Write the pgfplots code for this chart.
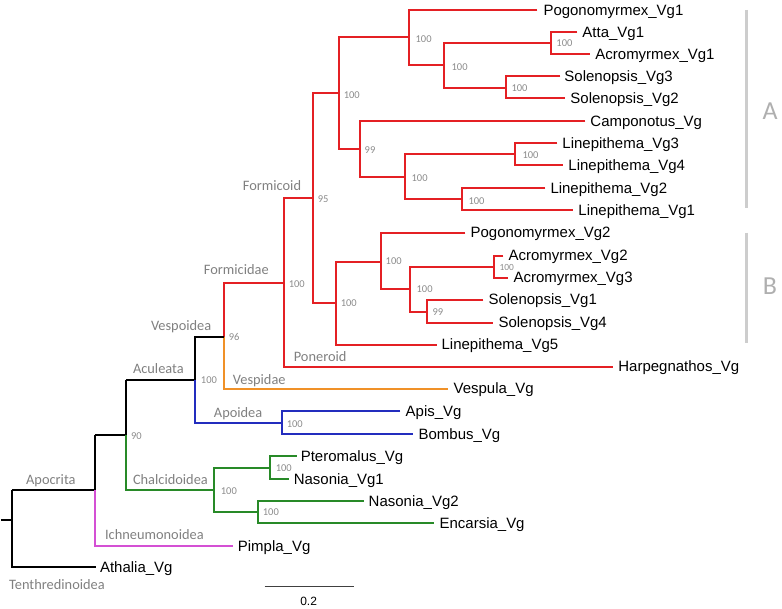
\documentclass[border=0pt]{standalone}
\usepackage{pgfplots}
\pgfplotsset{compat=1.18}
\usepackage{fontspec}
\setmainfont{Liberation Sans}
\newfontfamily\clade{Carlito}
\definecolor{tred}{RGB}{228,32,36}
\definecolor{torange}{RGB}{240,145,40}
\definecolor{tblue}{RGB}{35,45,190}
\definecolor{tgreen}{RGB}{40,138,40}
\definecolor{tmag}{RGB}{212,80,212}
\definecolor{bsgray}{RGB}{140,140,140}
\definecolor{clgray}{RGB}{128,128,128}
\definecolor{abgray}{RGB}{175,175,175}
\definecolor{bargray}{RGB}{205,205,205}
\tikzset{
  leaf/.style={anchor=base west,inner sep=0pt,yshift=-5.3pt,font=\fontsize{15}{18}\selectfont},
  bs/.style={anchor=base west,inner sep=0pt,yshift=-3.3pt,text=bsgray,font=\clade\fontsize{10.5}{12}\selectfont},
  cl/.style={anchor=base west,inner sep=0pt,yshift=-4.6pt,text=clgray,font=\clade\fontsize{14.4}{17}\selectfont},
  br/.style={line width=2pt,line join=miter}}
\begin{document}
\begin{tikzpicture}
\begin{axis}[width=782pt,height=609pt,scale only axis,hide axis,
  xmin=0,xmax=782,ymin=0,ymax=609,y dir=reverse,clip=false]
\addplot[draw=none] coordinates {(0,0) (782,609)};
% red: formicidae
\addplot[br,tred,mark=none] coordinates {(577,32)(551,32)(551,54)(590,54)};
\addplot[br,tred,mark=none] coordinates {(560,76)(506,76)(506,98)(565,98)};
\addplot[br,tred,mark=none] coordinates {(551,43)(444,43)(444,88)(506,88)};
\addplot[br,tred,mark=none] coordinates {(537,10)(409,10)(409,65)(444,65)};
\addplot[br,tred,mark=none] coordinates {(557,143)(515,143)(515,165)(563,165)};
\addplot[br,tred,mark=none] coordinates {(545,188)(462,188)(462,210)(573,210)};
\addplot[br,tred,mark=none] coordinates {(515,154)(405,154)(405,199)(462,199)};
\addplot[br,tred,mark=none] coordinates {(585,121)(359,121)(359,177)(405,177)};
\addplot[br,tred,mark=none] coordinates {(409,37)(338,37)(338,149)(359,149)};
\addplot[br,tred,mark=none] coordinates {(338,93)(312,93)(312,303)(335,303)};
\addplot[br,tred,mark=none] coordinates {(503,256)(494,256)(494,278)(508,278)};
\addplot[br,tred,mark=none] coordinates {(483,300)(427,300)(427,323)(493,323)};
\addplot[br,tred,mark=none] coordinates {(494,267)(410,267)(410,312)(427,312)};
\addplot[br,tred,mark=none] coordinates {(465,233)(380,233)(380,289)(410,289)};
\addplot[br,tred,mark=none] coordinates {(380,262)(335,262)(335,345)(437,345)};
\addplot[br,tred,mark=none] coordinates {(312,198)(283,198)(283,367)(613,367)};
\addplot[br,tred,mark=none] coordinates {(283,283)(223,283)(223,337)};
% vespidae
\addplot[br,torange,mark=none] coordinates {(223,337)(223,389)(448,389)};
% aculeata
\addplot[br,black,mark=none] coordinates {(125,380)(194,380)(194,337)(223,337)};
\addplot[br,tblue,mark=none] coordinates {(194,380)(194,424)(281,424)};
\addplot[br,tblue,mark=none] coordinates {(400,412)(281,412)(281,435)(413,435)};
% chalcidoidea
\addplot[br,black,mark=none] coordinates {(94,436)(125,436)(125,380)};
\addplot[br,tgreen,mark=none] coordinates {(125,436)(125,491)(213,491)};
\addplot[br,tgreen,mark=none] coordinates {(269,469)(213,469)(213,513)(257,513)};
\addplot[br,tgreen,mark=none] coordinates {(296,457)(269,457)(269,480)(288,480)};
\addplot[br,tgreen,mark=none] coordinates {(363,502)(257,502)(257,524)(434,524)};
% apocrita / root
\addplot[br,black,mark=none] coordinates {(11,491)(94,491)(94,436)};
\addplot[br,tmag,mark=none] coordinates {(94,491)(94,547)(232,547)};
\addplot[br,black,mark=none] coordinates {(11,491)(11,568)(95,568)};
\addplot[br,black,mark=none] coordinates {(0,521)(11,521)};
% scale bar
\addplot[line width=0.9pt,mark=none,black!75] coordinates {(264,587)(353,587)};
% group bars
\addplot[line width=3pt,mark=none,bargray] coordinates {(746,10)(746,208)};
\addplot[line width=3pt,mark=none,bargray] coordinates {(746,233)(746,343)};
% leaf labels
\node[leaf] at (axis cs:543,10) {Pogonomyrmex\_Vg1};
\node[leaf] at (axis cs:582,32) {Atta\_Vg1};
\node[leaf] at (axis cs:595,54) {Acromyrmex\_Vg1};
\node[leaf] at (axis cs:564,76) {Solenopsis\_Vg3};
\node[leaf] at (axis cs:570,98) {Solenopsis\_Vg2};
\node[leaf] at (axis cs:590,121) {Camponotus\_Vg};
\node[leaf] at (axis cs:562,143) {Linepithema\_Vg3};
\node[leaf] at (axis cs:568,165) {Linepithema\_Vg4};
\node[leaf] at (axis cs:550,188) {Linepithema\_Vg2};
\node[leaf] at (axis cs:578,210) {Linepithema\_Vg1};
\node[leaf] at (axis cs:470,233) {Pogonomyrmex\_Vg2};
\node[leaf] at (axis cs:508,256) {Acromyrmex\_Vg2};
\node[leaf] at (axis cs:513,278) {Acromyrmex\_Vg3};
\node[leaf] at (axis cs:488,300) {Solenopsis\_Vg1};
\node[leaf] at (axis cs:498,323) {Solenopsis\_Vg4};
\node[leaf] at (axis cs:441,345) {Linepithema\_Vg5};
\node[leaf] at (axis cs:618,367) {Harpegnathos\_Vg};
\node[leaf] at (axis cs:453,389) {Vespula\_Vg};
\node[leaf] at (axis cs:405,412) {Apis\_Vg};
\node[leaf] at (axis cs:418,435) {Bombus\_Vg};
\node[leaf] at (axis cs:300,457) {Pteromalus\_Vg};
\node[leaf] at (axis cs:293,480) {Nasonia\_Vg1};
\node[leaf] at (axis cs:368,502) {Nasonia\_Vg2};
\node[leaf] at (axis cs:439,524) {Encarsia\_Vg};
\node[leaf] at (axis cs:237,547) {Pimpla\_Vg};
\node[leaf] at (axis cs:99,568) {Athalia\_Vg};
% bootstrap values
\node[bs] at (axis cs:415,39) {100};
\node[bs] at (axis cs:451,67) {100};
\node[bs] at (axis cs:556,43) {100};
\node[bs] at (axis cs:511,88) {100};
\node[bs] at (axis cs:343,95) {100};
\node[bs] at (axis cs:364,150) {99};
\node[bs] at (axis cs:411,178) {100};
\node[bs] at (axis cs:522,155) {100};
\node[bs] at (axis cs:468,201) {100};
\node[bs] at (axis cs:317,199) {95};
\node[bs] at (axis cs:288,285) {100};
\node[bs] at (axis cs:340,304) {100};
\node[bs] at (axis cs:385,262) {100};
\node[bs] at (axis cs:416,290) {100};
\node[bs] at (axis cs:432,313) {99};
\node[bs,font=\clade\fontsize{9.4}{11}\selectfont] at (axis cs:499,268) {100};
\node[bs] at (axis cs:228,338) {96};
\node[bs] at (axis cs:200,381) {100};
\node[bs] at (axis cs:286,425) {100};
\node[bs] at (axis cs:130,437) {90};
\node[bs] at (axis cs:220,492) {100};
\node[bs] at (axis cs:275,469) {100};
\node[bs] at (axis cs:262,513) {100};
% clade labels
\node[cl] at (axis cs:242,186) {Formicoid};
\node[cl] at (axis cs:203,270) {Formicidae};
\node[cl] at (axis cs:150,326) {Vespoidea};
\node[cl] at (axis cs:132,369) {Aculeata};
\node[cl] at (axis cs:25,481) {Apocrita};
\node[cl] at (axis cs:8,586) {Tenthredinoidea};
\node[cl] at (axis cs:293,357) {Poneroid};
\node[cl] at (axis cs:232,380) {Vespidae};
\node[cl] at (axis cs:213,413) {Apoidea};
\node[cl] at (axis cs:132,481) {Chalcidoidea};
\node[cl] at (axis cs:104,536) {Ichneumonoidea};
% scale and groups
\node[anchor=center,inner sep=0pt,font=\fontsize{12}{14}\selectfont] at (axis cs:308,602) {0.2};
\node[anchor=center,inner sep=0pt,text=abgray,font=\clade\fontsize{26}{30}\selectfont] at (axis cs:770,111) {A};
\node[anchor=center,inner sep=0pt,text=abgray,font=\clade\fontsize{26}{30}\selectfont] at (axis cs:770,287) {B};
\end{axis}
\end{tikzpicture}
\end{document}
